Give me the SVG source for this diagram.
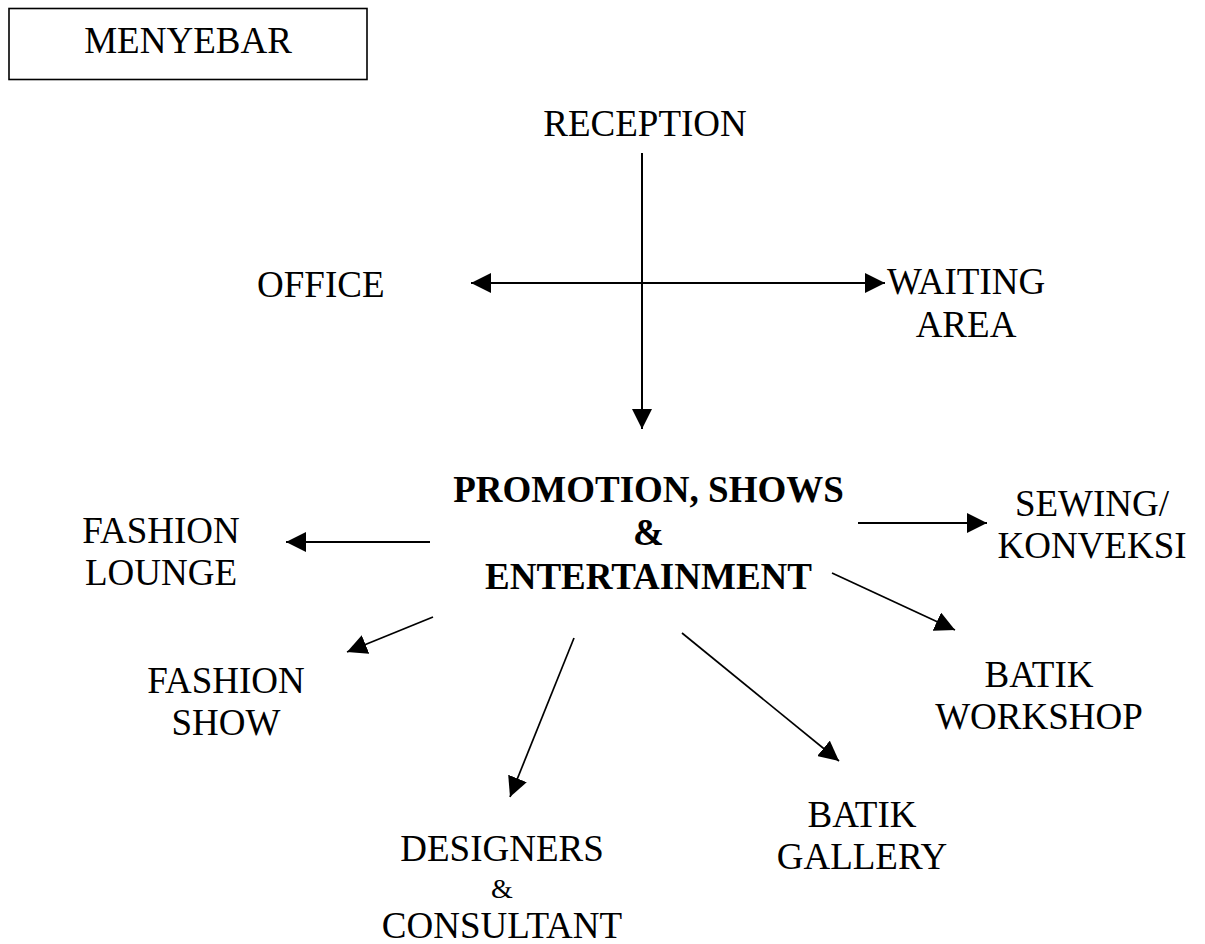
<svg xmlns="http://www.w3.org/2000/svg" width="1205" height="944" viewBox="0 0 1205 944">
<style>
text{font-family:"Liberation Serif","Times New Roman",serif;font-size:37px;fill:#000}
.c{text-anchor:middle}
.b{font-weight:bold}
.amp{font-size:28px}
.ln{stroke:#000;stroke-width:2;fill:none}
.dg{stroke:#000;stroke-width:1.7;fill:none}
</style>
<defs>
<marker id="ah" markerUnits="userSpaceOnUse" markerWidth="20" markerHeight="20" refX="20" refY="10" orient="auto-start-reverse" viewBox="0 0 20 20">
<path d="M0,0 L20,10 L0,20 z" fill="#000"/>
</marker>
</defs>
<rect width="1205" height="944" fill="#fff"/>
<g id="title">
<rect x="9" y="8.5" width="358" height="71" fill="none" stroke="#000" stroke-width="1.6"/>
<text class="c" x="188" y="53">MENYEBAR</text>
</g>
<g id="connectors">
<line class="ln" x1="642" y1="153" x2="642" y2="429" marker-end="url(#ah)"/>
<line class="ln" x1="471" y1="283" x2="885" y2="283" marker-start="url(#ah)" marker-end="url(#ah)"/>
<line class="ln" x1="430" y1="542" x2="286" y2="542" marker-end="url(#ah)"/>
<line class="ln" x1="858" y1="523" x2="987" y2="523" marker-end="url(#ah)"/>
<line class="dg" x1="433" y1="617" x2="347" y2="652" marker-end="url(#ah)"/>
<line class="dg" x1="574" y1="638" x2="510" y2="797" marker-end="url(#ah)"/>
<line class="dg" x1="682" y1="633" x2="839" y2="761" marker-end="url(#ah)"/>
<line class="dg" x1="832" y1="573" x2="955" y2="630" marker-end="url(#ah)"/>
</g>
<g id="reception"><text class="c" x="645" y="136">RECEPTION</text></g>
<g id="office"><text x="257" y="297">OFFICE</text></g>
<g id="waiting-area">
<text x="887" y="294">WAITING</text>
<text class="c" x="966" y="337">AREA</text>
</g>
<g id="promotion">
<text class="c b" x="648.5" y="502">PROMOTION, SHOWS</text>
<text class="c b" x="648.5" y="545">&amp;</text>
<text class="c b" x="648.5" y="589">ENTERTAINMENT</text>
</g>
<g id="fashion-lounge">
<text class="c" x="161" y="543">FASHION</text>
<text class="c" x="161" y="585">LOUNGE</text>
</g>
<g id="fashion-show">
<text class="c" x="226" y="693">FASHION</text>
<text class="c" x="226" y="735">SHOW</text>
</g>
<g id="sewing">
<text class="c" x="1092" y="516">SEWING/</text>
<text class="c" x="1092" y="558">KONVEKSI</text>
</g>
<g id="batik-workshop">
<text class="c" x="1039" y="687">BATIK</text>
<text class="c" x="1039" y="729">WORKSHOP</text>
</g>
<g id="batik-gallery">
<text class="c" x="862" y="827">BATIK</text>
<text class="c" x="862" y="869">GALLERY</text>
</g>
<g id="designers">
<text class="c" x="502" y="861">DESIGNERS</text>
<text class="c amp" x="502" y="898">&amp;</text>
<text class="c" x="502" y="938">CONSULTANT</text>
</g>
</svg>
